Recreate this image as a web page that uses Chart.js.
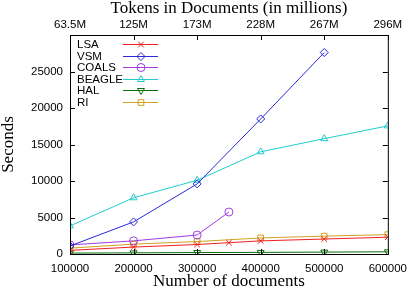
<!DOCTYPE html>
<html>
<head>
<meta charset="utf-8">
<script src="https://cdn.jsdelivr.net/npm/chart.js@4"></script>
<style>
  html, body { margin: 0; padding: 0; background: #fff; }
  #wrap { width: 415px; height: 292px; }
</style>
</head>
<body>
<div id="wrap"><canvas id="timing" width="415" height="292"></canvas></div>
<script>
// values
const docs = [100000, 200000, 300000, 400000, 500000, 600000]
const tokenLabels = ['63.5M', '125M', '173M', '228M', '267M', '296M']

const lsaDocs = [100000, 200000, 300000, 350000, 400000, 500000, 600000]
const lsa = [500, 950, 1300, 1550, 1800, 2050, 2300]
const vsmDocs = [100000, 200000, 300000, 400000, 500000]
const vsm = [1100, 4400, 9600, 18500, 27600]
const coalsDocs = [100000, 200000, 300000, 350000]
const coals = [1250, 1800, 2600, 5750]
const beagle = [3850, 7700, 10100, 14000, 15800, 17550]
const hal = [120, 160, 200, 220, 260, 300]
const ri = [800, 1350, 1700, 2200, 2450, 2650]

const serif = "'Liberation Serif', 'Times New Roman', serif"
const sans = "'Liberation Sans', Arial, sans-serif"

function pts(xs, ys) {
    return xs.map((x, i) => ({x: x, y: ys[i]}))
}

function series(label, xs, ys, color, style, rot) {
    return {
        label: label,
        data: pts(xs, ys),
        borderColor: color,
        backgroundColor: 'rgba(0,0,0,0)',
        borderWidth: 1,
        pointStyle: style,
        pointRotation: rot || 0,
        pointRadius: 4,
        pointBorderWidth: 1,
        pointBorderColor: color,
        pointBackgroundColor: 'rgba(0,0,0,0)',
        tension: 0,
    }
}

// gnuplot style frame, inward ticks and key
const gnuplotFrame = {
    id: 'gnuplotFrame',
    afterDatasetsDraw(chart) {
        const ctx = chart.ctx
        const a = chart.chartArea
        ctx.save()
        ctx.strokeStyle = '#000'
        ctx.lineWidth = 1
        ctx.strokeRect(a.left + 0.5, a.top + 0.5, a.right - a.left, a.bottom - a.top)
        ctx.beginPath()
        const xs = chart.scales.x
        xs.ticks.forEach(t => {
            const px = Math.round(xs.getPixelForValue(t.value)) + 0.5
            ctx.moveTo(px, a.bottom); ctx.lineTo(px, a.bottom - 5)
            ctx.moveTo(px, a.top); ctx.lineTo(px, a.top + 5)
        })
        const ys = chart.scales.y
        ys.ticks.forEach(t => {
            const py = Math.round(ys.getPixelForValue(t.value)) + 0.5
            ctx.moveTo(a.left, py); ctx.lineTo(a.left + 5, py)
            ctx.moveTo(a.right, py); ctx.lineTo(a.right - 5, py)
        })
        ctx.stroke()

        // key in the top left corner
        ctx.font = '11.5px ' + sans
        ctx.textBaseline = 'middle'
        ctx.textAlign = 'left'
        chart.data.datasets.forEach((ds, i) => {
            const y = Math.round(a.top + 9 + i * 11.6) + 0.5
            ctx.fillStyle = '#000'
            ctx.fillText(ds.label, a.left + 7, y)
            ctx.strokeStyle = ds.borderColor
            ctx.beginPath()
            ctx.moveTo(a.left + 53, y)
            ctx.lineTo(a.left + 88, y)
            ctx.stroke()
            ctx.fillStyle = 'rgba(0,0,0,0)'
            Chart.helpers.drawPoint(ctx, {
                pointStyle: ds.pointStyle,
                rotation: ds.pointRotation,
                radius: 4,
                borderWidth: 1,
            }, a.left + 71, y)
        })
        ctx.restore()
    }
}

const tickFont = {family: sans, size: 11.5}
const titleFont = {family: serif, size: 17}

const ctx = document.getElementById('timing').getContext('2d')
const timing = new Chart(ctx, {
    type: 'line',
    data: {
        datasets: [
            series('LSA', lsaDocs, lsa, '#f02020', 'crossRot'),
            series('VSM', vsmDocs, vsm, '#2a2ad8', 'rectRot'),
            series('COALS', coalsDocs, coals, '#a03ce0', 'circle'),
            series('BEAGLE', docs, beagle, '#20cccc', 'triangle'),
            series('HAL', docs, hal, '#0a6e0a', 'triangle', 180),
            series('RI', docs, ri, '#d0a020', 'rect'),
        ]
    },
    options: {
        responsive: false,
        animation: false,
        layout: {padding: {left: 0, right: 24, top: 0, bottom: 0}},
        plugins: {
            legend: {display: false},
            tooltip: {enabled: false},
        },
        scales: {
            x: {
                type: 'linear',
                position: 'bottom',
                min: 100000,
                max: 600000,
                grid: {display: false, drawTicks: false},
                border: {display: false},
                ticks: {
                    stepSize: 100000,
                    padding: 8,
                    color: '#000',
                    font: tickFont,
                    maxRotation: 0,
                    callback: v => String(v),
                },
                title: {
                    display: true,
                    text: 'Number of documents',
                    color: '#000',
                    font: titleFont,
                    padding: {top: 0, bottom: 0},
                },
                afterFit: s => { s.height = 38 },
            },
            x2: {
                type: 'linear',
                position: 'top',
                min: 100000,
                max: 600000,
                grid: {display: false, drawTicks: false},
                border: {display: false},
                ticks: {
                    stepSize: 100000,
                    padding: 3,
                    color: '#000',
                    font: tickFont,
                    maxRotation: 0,
                    callback: (v) => tokenLabels[docs.indexOf(v)] || '',
                },
                title: {
                    display: true,
                    text: 'Tokens in Documents (in millions)',
                    color: '#000',
                    font: titleFont,
                    padding: {top: -2, bottom: 0},
                },
                afterFit: s => { s.height = 35 },
            },
            y: {
                min: 0,
                max: 30000,
                grid: {display: false, drawTicks: false},
                border: {display: false},
                ticks: {
                    stepSize: 5000,
                    padding: 7,
                    color: '#000',
                    font: tickFont,
                    callback: v => (v >= 30000 ? '' : String(v)),
                },
                title: {
                    display: true,
                    text: 'Seconds',
                    color: '#000',
                    font: titleFont,
                    padding: {top: -2, bottom: 0},
                },
                afterFit: s => { s.width = 70 },
            },
        },
    },
    plugins: [gnuplotFrame],
})
</script>
</body>
</html>
